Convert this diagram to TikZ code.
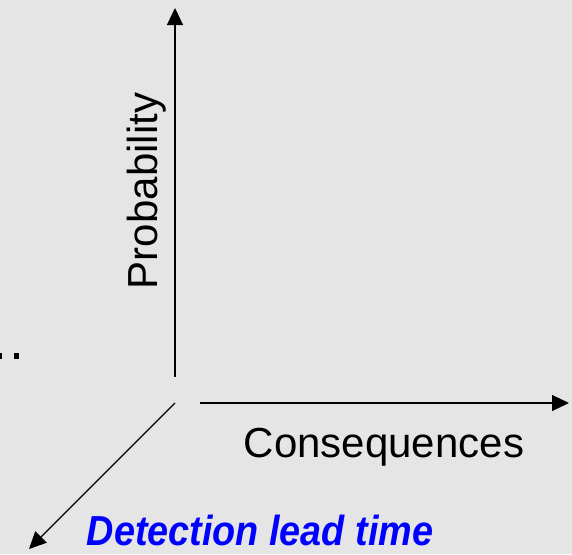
\documentclass[tikz,border=0pt]{standalone}
\usepackage{fontspec}
\setmainfont{Liberation Sans}
\usepackage{tikz}
\usetikzlibrary{arrows.meta}
\usetikzlibrary{positioning}
\definecolor{bggray}{RGB}{229,229,229}

\begin{document}
\begin{tikzpicture}[x=1pt,y=-1pt,every node/.style={inner sep=0pt,anchor=base,font=\fontsize{42}{50}\selectfont},
  axis/.style={line width=1.1pt,-{Triangle[length=17pt,width=16pt]}}]
  \fill[bggray] (0,0) rectangle (572,554);
  \useasboundingbox (0,0) rectangle (572,554);
  \coordinate (ybot) at (175,377);
  \coordinate (ytop) at (175,8);
  \coordinate (xbeg) at (200,403);
  \coordinate (xend) at (569,403);
  \coordinate (zbeg) at (175,403);
  \coordinate (zend) at (29,549);

  \node[rotate=90] (prob) at (157,191) {Probability};
  \node (cons) at (384,457) {Consequences};
  \node[blue,xscale=0.9,font=\fontsize{42}{50}\selectfont\bfseries\itshape] (lead) at (260,545) {Detection lead time};

  \draw[axis](ybot)--(ytop);
  \draw[axis](xbeg)--(xend);
  \draw[axis](zbeg)--(zend);
  % dots at left edge
  \fill (0,353) rectangle (2,359);
  \fill (14,353) rectangle (19,359);
\end{tikzpicture}
\end{document}
